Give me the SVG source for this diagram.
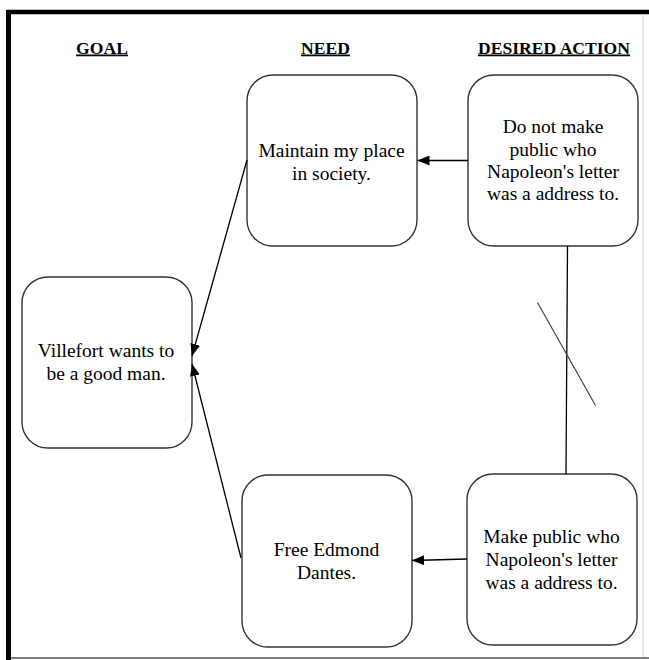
<svg xmlns="http://www.w3.org/2000/svg" width="649" height="660" viewBox="0 0 649 660">
<style>
.node rect{fill:#fff;stroke:#333;stroke-width:1.4}
.t{font-family:"Liberation Serif","Times New Roman",serif;font-size:19.5px;text-anchor:middle;fill:#000}
.h{font-family:"Liberation Serif","Times New Roman",serif;font-size:17.6px;font-weight:bold;text-anchor:middle;text-decoration:underline;fill:#000}
.conn line{stroke:#000;stroke-width:1.3;fill:none}
</style>
<defs>
<marker id="arr" markerUnits="userSpaceOnUse" markerWidth="12" markerHeight="10" refX="12" refY="5" orient="auto">
<path d="M0,0 L12,5 L0,10 Z" fill="#000"/>
</marker>
</defs>
<rect width="649" height="660" fill="#fff"/>
<g id="frame">
<line x1="6" y1="12" x2="649" y2="12" stroke="#000" stroke-width="4.5"/>
<line x1="8.5" y1="10" x2="8.5" y2="660" stroke="#000" stroke-width="5"/>
<line x1="643" y1="14" x2="643" y2="657" stroke="#d0d0d0" stroke-width="1"/>
<line x1="11" y1="658" x2="649" y2="658" stroke="#555" stroke-width="1.5"/>
</g>
<g id="headings">
<text class="h" x="102" y="53.5">GOAL</text>
<text class="h" x="325.5" y="53.5">NEED</text>
<text class="h" x="554" y="53.5">DESIRED ACTION</text>
</g>
<g id="node-need-top" class="node">
<rect x="247" y="75" width="170" height="171" rx="26" ry="26"/>
<text class="t" x="331.5" y="157">Maintain my place</text>
<text class="t" x="331.5" y="180">in society.</text>
</g>
<g id="node-action-top" class="node">
<rect x="468" y="75" width="170" height="171" rx="26" ry="26"/>
<text class="t" x="553" y="133">Do not make</text>
<text class="t" x="553" y="155.5">public who</text>
<text class="t" x="553" y="178">Napoleon's letter</text>
<text class="t" x="553" y="200">was a address to.</text>
</g>
<g id="node-goal" class="node">
<rect x="22" y="277" width="170" height="171" rx="26" ry="26"/>
<text class="t" x="106" y="357">Villefort wants to</text>
<text class="t" x="106" y="380">be a good man.</text>
</g>
<g id="node-need-bottom" class="node">
<rect x="242" y="475" width="170" height="172" rx="26" ry="26"/>
<text class="t" x="326.5" y="556">Free Edmond</text>
<text class="t" x="326.5" y="579">Dantes.</text>
</g>
<g id="node-action-bottom" class="node">
<rect x="467" y="474" width="170" height="171" rx="26" ry="26"/>
<text class="t" x="551.5" y="543">Make public who</text>
<text class="t" x="551.5" y="566">Napoleon's letter</text>
<text class="t" x="551.5" y="588.5">was a address to.</text>
</g>
<g id="connectors" class="conn">
<line x1="468" y1="160.5" x2="417.5" y2="160.5" marker-end="url(#arr)"/>
<line x1="467" y1="559" x2="412" y2="560.5" marker-end="url(#arr)"/>
<line x1="247" y1="160" x2="192" y2="356" marker-end="url(#arr)"/>
<line x1="241" y1="558" x2="192" y2="364" marker-end="url(#arr)"/>
<line x1="567.5" y1="246" x2="566" y2="474"/>
<line x1="537.5" y1="302.5" x2="595.5" y2="405.5" style="stroke:#444;stroke-width:1.2"/>
</g>
</svg>
